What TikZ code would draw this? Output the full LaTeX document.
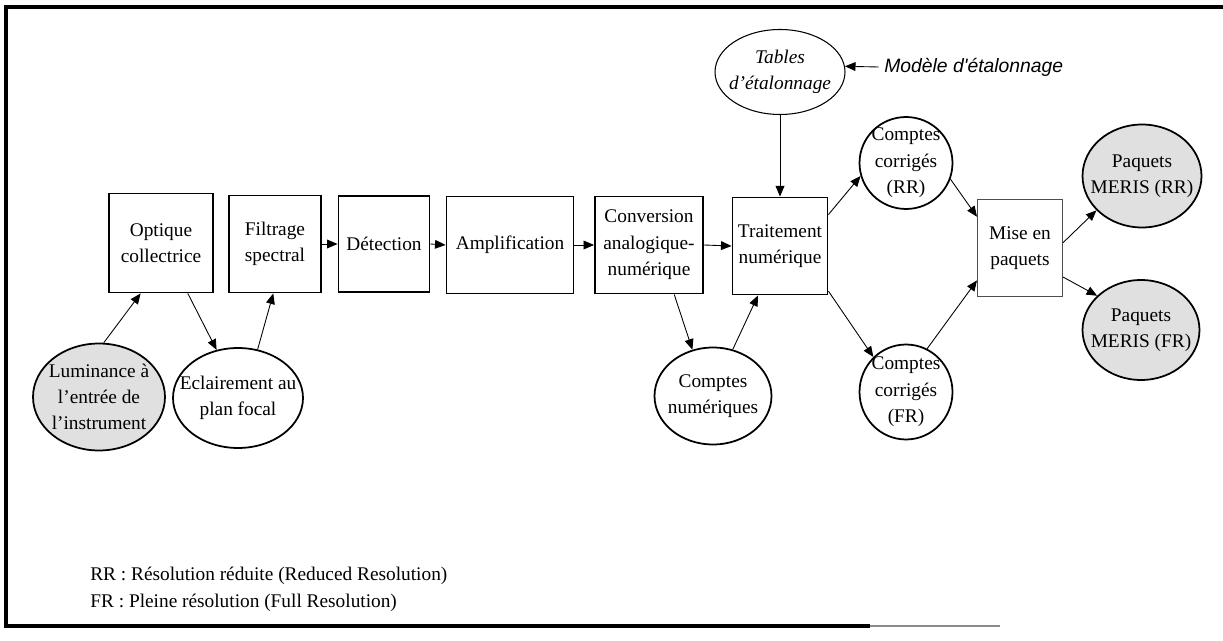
\documentclass[tikz,border=0pt]{standalone}
\usepackage{fontspec}
\setmainfont{Liberation Serif}
\newfontfamily\modelefont{Liberation Sans}
\usepackage{tikz}
\usetikzlibrary{arrows.meta}
\usetikzlibrary{shapes.geometric}

\begin{document}
\begin{tikzpicture}[x=0.02cm, y=-0.02cm,
	font=\fontsize{11}{15}\selectfont,
	>={Triangle[length=6pt,width=5pt]},
	bloc/.style={draw, line width=1.1pt, align=center, inner sep=0pt},
	donnee/.style={ellipse, draw, line width=1pt, inner sep=0pt},
	grise/.style={donnee, fill=black!12}]
\useasboundingbox (0,0) rectangle (1223,641);
% cadre
\draw[line width=2.2pt] (1223,7) -- (6,7) -- (6,626) -- (870,626);
\draw[line width=1.2pt, black!45] (870,626) -- (1000,626);

% chaine instrument
\node[bloc, minimum width=2.08cm, minimum height=1.98cm] (opt) at (161,243) {Optique\\collectrice};
\node[bloc, minimum width=1.84cm, minimum height=1.94cm] (filt) at (275,244) {Filtrage\\spectral};
\node[bloc, minimum width=1.82cm, minimum height=1.92cm] (det) at (384,244) {D\'etection};
\node[bloc, minimum width=2.54cm, minimum height=1.94cm] (ampl) at (510,245) {Amplification};
\node[bloc, minimum width=2.16cm, minimum height=1.94cm] (conv) at (649,245) {Conversion\\analogique-\\num\'erique};
\node[bloc, minimum width=1.90cm, minimum height=1.94cm] (trait) at (780,246) {Traitement\\num\'erique};
\node[bloc, draw=black!70, line width=0.6pt, minimum width=1.70cm, minimum height=1.94cm] (mise) at (1020,248) {Mise en\\paquets};

% donnees (texte en label pour garder la taille de l'ellipse)
\node[grise, minimum width=2.64cm, minimum height=2.14cm,
	label={[align=center]center:Luminance \`a\\l'entr\'ee de\\l'instrument}] (lum) at (99,397) {};
\node[donnee, minimum width=2.60cm, minimum height=2.00cm,
	label={[align=center]center:Eclairement au\\plan focal}] (ecl) at (238,398) {};
\node[donnee, minimum width=2.34cm, minimum height=1.94cm,
	label={[align=center]center:Comptes\\num\'eriques}] (num) at (713,396) {};
\node[donnee, line width=0.6pt, minimum width=2.60cm, minimum height=1.70cm,
	label={[align=center, font=\fontsize{11}{15}\selectfont\itshape]center:Tables\\d'\'etalonnage}] (tables) at (780,72) {};
\node[donnee, minimum width=1.86cm, minimum height=1.84cm,
	label={[align=center]center:Comptes\\corrig\'es\\(RR)}] (crr) at (906,163) {};
\node[donnee, minimum width=1.86cm, minimum height=1.90cm,
	label={[align=center]center:Comptes\\corrig\'es\\(FR)}] (cfr) at (906,392) {};
\node[grise, minimum width=2.38cm, minimum height=2.06cm,
	label={[align=center]center:Paquets\\MERIS (RR)}] (mrr) at (1142,176) {};
\node[grise, minimum width=2.34cm, minimum height=2.00cm,
	label={[align=center]center:Paquets\\MERIS (FR)}] (mfr) at (1141,330) {};

\node[anchor=west, inner sep=0pt, font=\fontsize{11}{15}\modelefont\itshape] (modele) at (884,67) {Mod\`ele d'\'etalonnage};

% legende
\node[anchor=west, inner sep=0pt] (legrr) at (90,576) {RR : R\'esolution r\'eduite (Reduced Resolution)};
\node[anchor=west, inner sep=0pt] (legfr) at (90,603) {FR : Pleine r\'esolution (Full Resolution)};

\path[->, line width=0.5pt]
(lum.85) edge (opt.248)
(opt.298) edge (ecl.114)
(ecl.68) edge (filt.268)
(filt.east) edge (det.west)
(det.east) edge (ampl.west)
(ampl.east) edge (conv.west)
(conv.east) edge (trait.west)
(conv.297) edge (num.114)
(num.67) edge (trait.246)
(tables) edge (trait)
([xshift=-3pt]modele.west) edge (tables.5)
(trait.33) edge (crr.196)
(trait.317) edge (cfr.133)
(crr.340) edge (mise.144)
(cfr.64) edge (mise.217)
(mise.7) edge (mrr.217)
(mise.326) edge (mfr.142)
;
\end{tikzpicture}
\end{document}
